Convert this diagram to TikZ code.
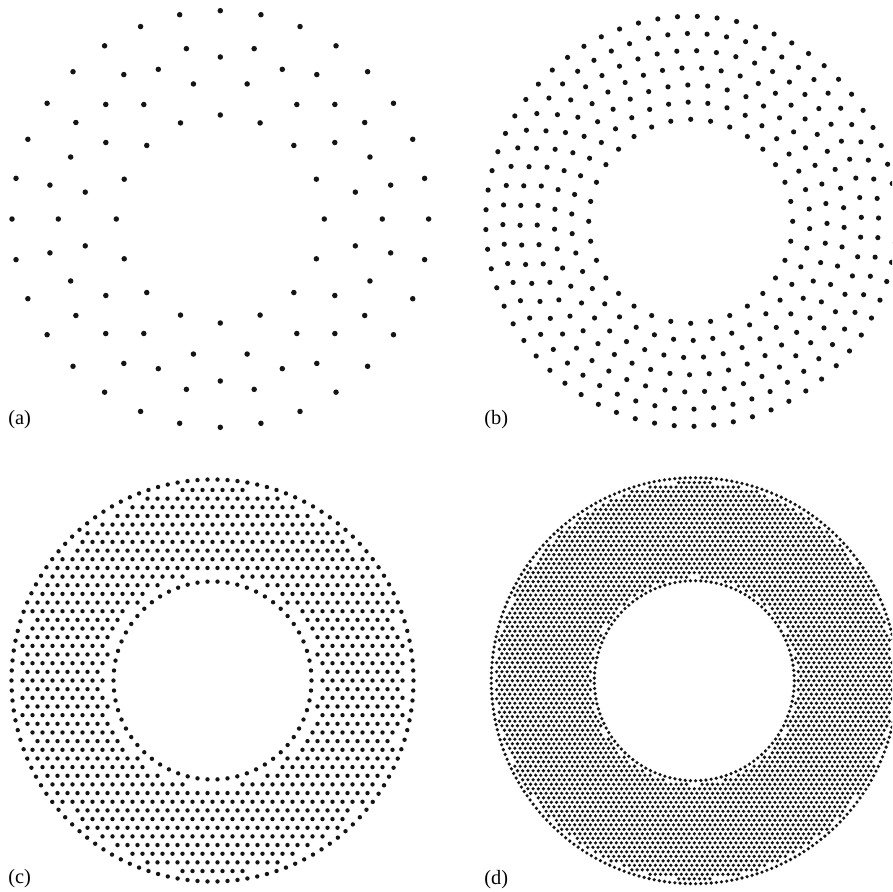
\documentclass[tikz,border=0pt]{standalone}
\usepackage{fontspec}
\setmainfont{Liberation Serif}
\definecolor{dotcol}{gray}{0.08}
\newcommand{\dotring}[6]{%
  \foreach \k in {1,...,#4} {%
    \pgfmathsetmacro{\ang}{#5+(360/#4)*\k}%
    \fill[dotcol] ({#1+#3*cos(\ang)},{#2+#3*sin(\ang)}) circle[radius={#6*0.25mm}];
  }}
\newcommand{\dotlattice}[8]{%
  \foreach \i in {-#6,...,#6} {%
    \foreach \j in {-#7,...,#7} {%
      \pgfmathsetmacro{\xx}{(\j+0.5*mod(\i+1000,2))*#5}%
      \pgfmathsetmacro{\yy}{\i*#5*0.8660254}%
      \pgfmathsetmacro{\rr}{10*sqrt((\xx/10)*(\xx/10)+(\yy/10)*(\yy/10))}%
      \ifdim\rr pt>#3pt\relax\ifdim\rr pt<#4pt\relax
        \fill[dotcol] ({#1+(\xx)},{#2+(\yy)}) circle[radius={#8*0.25mm}];
      \fi\fi
    }}}
\begin{document}
\begin{tikzpicture}[x=0.25mm,y=-0.25mm,
  lab/.style={anchor=base west,inner sep=0pt,font=\fontsize{14.5}{16}\selectfont}]
\useasboundingbox (0,0) rectangle (892,892);
\begin{scope}
\clip (0,0) rectangle (892,892);
% panel (a)
\dotring{220.3}{219}{208.3}{32}{0}{2.75}
\dotring{220.3}{219}{173.7}{16}{11.25}{2.75}
\dotring{220.3}{219}{162}{16}{0}{2.75}
\dotring{220.3}{219}{137.7}{16}{11.25}{2.75}
\dotring{220.3}{219}{104}{16}{0}{2.75}
% panel (b)
\foreach \m in {0,...,6} {
  \pgfmathsetmacro{\rb}{102+\m*17.17}
  \pgfmathtruncatemacro{\Nb}{round(2*pi*\rb/19.8)}
  \pgfmathsetmacro{\ph}{\m*13}
  \dotring{690.7}{221.3}{\rb}{\Nb}{\ph}{2.6}
}
% panel (c)
\dotring{212.5}{680.5}{201}{126}{0}{2.2}
\dotring{212.5}{680.5}{99}{62}{0}{2.2}
\dotlattice{212.5}{680.5}{106}{194}{10}{23}{21}{2.2}
% panel (d)
\dotring{694.3}{680.7}{203}{245}{0}{1.8}
\dotring{694.3}{680.7}{100}{121}{0}{1.8}
\dotlattice{694.3}{680.7}{103.8}{199.2}{5.2}{46}{40}{1.8}
\end{scope}
\node[lab] (la) at (8,424) {(a)};
\node[lab] (lb) at (484,424) {(b)};
\node[lab] (lc) at (8,883) {(c)};
\node[lab] (ld) at (484,884) {(d)};
\end{tikzpicture}
\end{document}
